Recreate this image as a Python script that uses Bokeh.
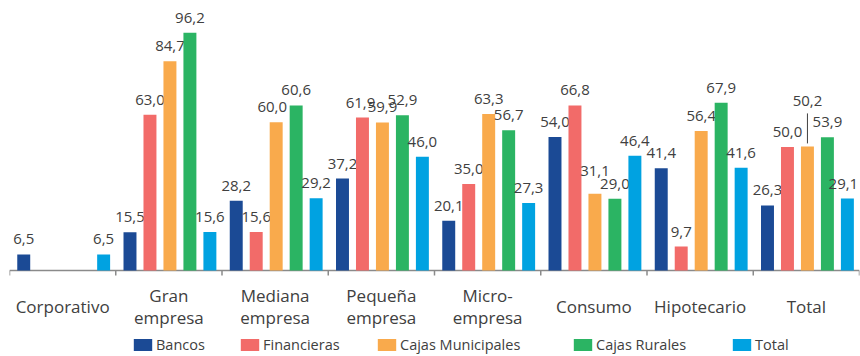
from bokeh.plotting import figure
from bokeh.models import ColumnDataSource, Legend, LegendItem, Range1d
from bokeh.core.properties import value
from bokeh.embed import file_html
from bokeh.resources import INLINE

# ---------------- data ----------------
categories = ["Corporativo", "Gran\nempresa", "Mediana\nempresa", "Pequeña\nempresa",
              "Micro-\nempresa", "Consumo", "Hipotecario", "Total"]
series_names = ["Bancos", "Financieras", "Cajas Municipales", "Cajas Rurales", "Total"]
# values printed on the bars
bancos = [6.5, 15.5, 28.2, 37.2, 20.1, 54.0, 41.4, 26.3]
financieras = [None, 63.0, 15.6, 61.9, 35.0, 66.8, 9.7, 50.0]
cajas_municipales = [None, 84.7, 60.0, 59.9, 63.3, 31.1, 56.4, 50.2]
cajas_rurales = [None, 96.2, 60.6, 52.9, 56.7, 29.0, 67.9, 53.9]
total = [6.5, 15.6, 29.2, 46.0, 27.3, 46.4, 41.6, 29.1]
# bar heights as drawn in the picture (two Cajas Rurales bars are drawn taller than their labels)
cajas_rurales_drawn = [None, 96.2, 66.8, 62.8, 56.7, 29.0, 67.9, 53.9]
series_labels = [bancos, financieras, cajas_municipales, cajas_rurales, total]
series_heights = [bancos, financieras, cajas_municipales, cajas_rurales_drawn, total]
colors = ["#1B4A95", "#F26B69", "#F9AA4C", "#2BB463", "#00A2E1"]

# ---------------- style / layout ----------------
FONT = "Open Sans"
TXT = "#404040"
AXIS_C = "#8a8a8a"
Y_END = 106.0
PLOT_H = 262                  # pixels from top of frame to the baseline (value 0)
PX = PLOT_H / Y_END           # pixels per unit
BELOW = 86                    # pixels below the baseline for labels + legend
STEP = 0.188
BAR_W = 0.122
N = len(categories)
LABEL_DY = -15
# label nudges in pixels: (series, category index) -> (dx, extra dy, leader line)
NUDGE = {("Cajas Municipales", 2): (-4, 0, False), ("Total", 7): (-4, 0, False),
         ("Financieras", 3): (-2, 0, False), ("Cajas Municipales", 5): (0, -8, False),
         ("Cajas Municipales", 7): (0, -30, True)}

p = figure(width=860, height=356, output_backend="svg", toolbar_location=None,
           x_range=Range1d(0, N), y_range=Range1d(-BELOW / PX, Y_END),
           min_border_left=9, min_border_right=1, min_border_top=8, min_border_bottom=0)
p.outline_line_color = None
p.xgrid.grid_line_color = None
p.ygrid.grid_line_color = None
p.xaxis.visible = False
p.yaxis.visible = False
p.background_fill_color = None
p.border_fill_color = None

def fmt(v):
    return f"{v:.1f}".replace(".", ",")

# ---- category baseline with boundary ticks ----
p.segment(x0=[0], y0=[0], x1=[N], y1=[0], line_color=AXIS_C, line_width=1.5)
bounds = list(range(N + 1))
p.segment(x0=bounds, y0=[0] * len(bounds), x1=bounds, y1=[-5 / PX] * len(bounds),
          line_color=AXIS_C, line_width=1.5)

renderers = []
for j, (name, labs_v, heights, col) in enumerate(zip(series_names, series_labels,
                                                      series_heights, colors)):
    xs, tops, labs, dxs, dys = [], [], [], [], []
    for i, (lv, h) in enumerate(zip(labs_v, heights)):
        if h is None:
            continue
        xs.append(i + 0.5 + (j - 2) * STEP + 0.01)
        tops.append(h)
        labs.append(fmt(lv))
        dx, ddy, leader = NUDGE.get((name, i), (0, 0, False))
        dxs.append(dx)
        dys.append(LABEL_DY + ddy)
        if leader:
            # leader line from the bar top to the raised label
            p.segment(x0=[xs[-1]], y0=[h + 3 / PX], x1=[xs[-1]], y1=[h + (3 - ddy) / PX],
                      line_color="#404040", line_width=1)
    src = ColumnDataSource(dict(x=xs, top=tops, lab=labs, dx=dxs, dy=dys))
    r = p.vbar(x="x", top="top", width=BAR_W, bottom=0, source=src,
               fill_color=col, line_color=None)
    renderers.append(r)
    p.text(x="x", y="top", text="lab", source=src, text_align="center",
           text_baseline="alphabetic", x_offset="dx", y_offset="dy", text_color=TXT,
           text_font=value(FONT), text_font_size="15px")

# ---- category labels ----
cx, cy, ct = [], [], []
for i, c in enumerate(categories):
    lines = c.split("\n")
    offs = [35.5] if len(lines) == 1 else [25, 47]
    for ln, o in zip(lines, offs):
        cx.append(i + 0.5)
        cy.append(-o / PX)
        ct.append(ln)
p.text(x=cx, y=cy, text=ct, text_align="center", text_baseline="middle",
       text_color=TXT, text_font=value(FONT), text_font_size="17px")

# ---- legend: one per series, placed individually ----
leg_x = [122, 229, 366, 562, 721]
for r, name, lx in zip(renderers, series_names, leg_x):
    lg = Legend(items=[LegendItem(label=name, renderers=[r])],
                location=(lx, 2), orientation="horizontal",
                glyph_width=23, glyph_height=15, label_standoff=2,
                label_height=15, padding=0, margin=0, spacing=0,
                border_line_color=None, background_fill_alpha=0,
                label_text_font=FONT, label_text_font_size="14.5px",
                label_text_color=TXT)
    p.add_layout(lg, "center")

open("out.html", "w").write(file_html(p, INLINE))
